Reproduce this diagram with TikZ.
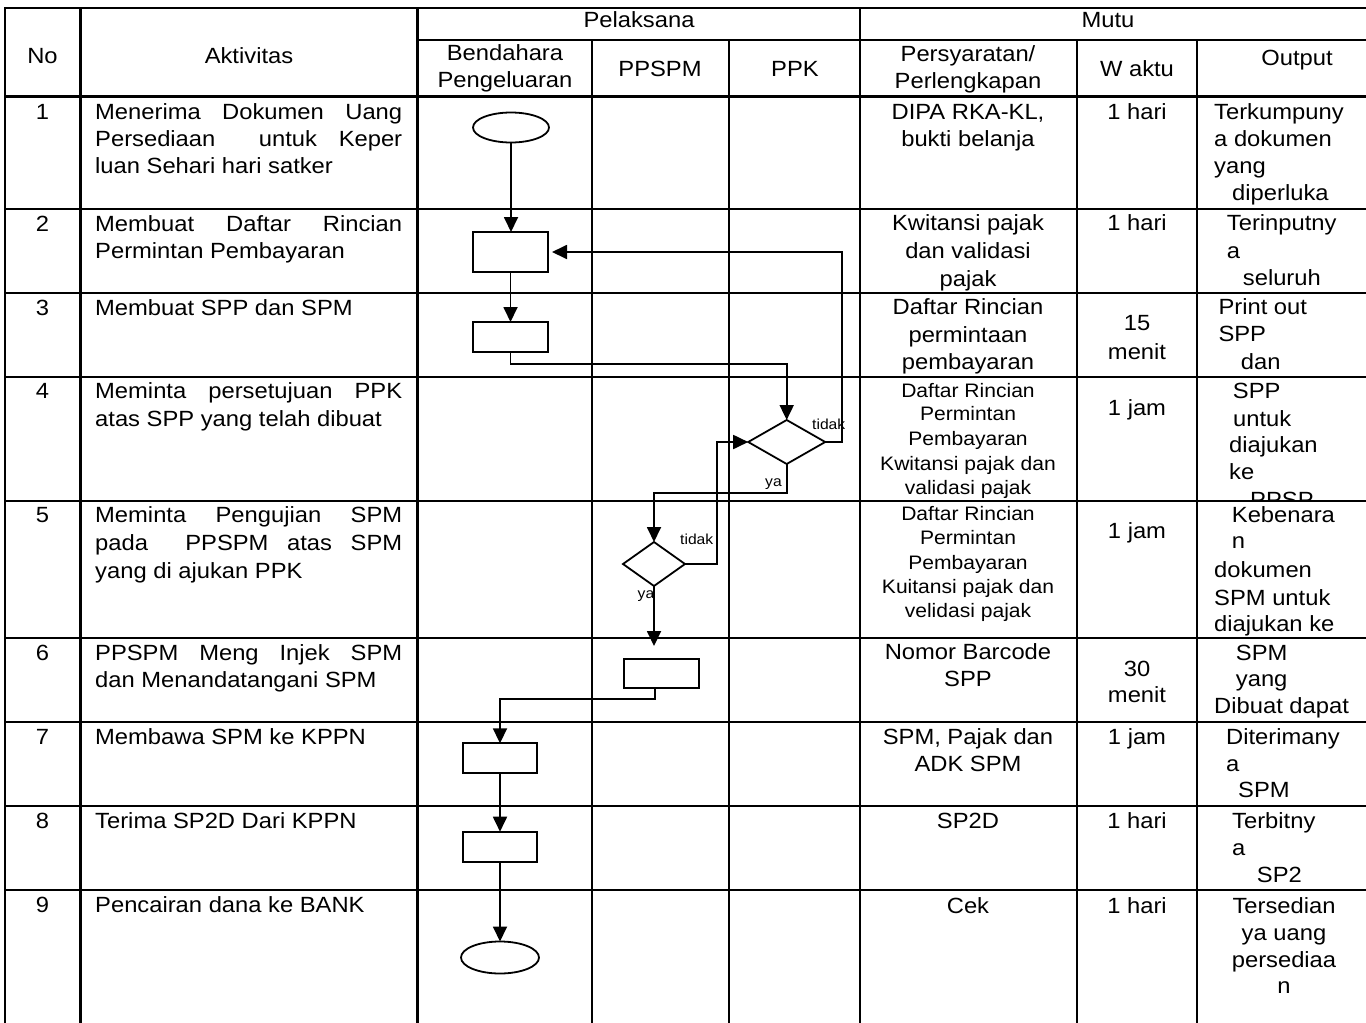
\documentclass[tikz,border=0pt]{standalone}
\usepackage{fontspec}
\setmainfont{Liberation Sans}[FakeStretch=1.08]
\usetikzlibrary{arrows.meta,shapes.geometric}
\begin{document}
\begin{tikzpicture}[x=1pt,y=-1pt,
  grid/.style={line width=2.5pt},
  flow/.style={line width=1.8pt},
  arr/.style={flow,-{Triangle[length=15pt,width=14pt]}},
  shp/.style={draw,line width=1.8pt,inner sep=0pt,outer sep=0pt,fill=white},
  txt/.style={inner sep=0pt,font=\fontsize{22}{27}\selectfont},
  sml/.style={inner sep=0pt,font=\fontsize{19.5}{24}\selectfont},
  lbl/.style={inner sep=0pt,font=\fontsize{14.5}{17}\selectfont}]
\useasboundingbox (0,0) rectangle (1366,1023);
\fill[white] (0,0) rectangle (1366,1023);
% grid
\draw[grid] (1366,8) -- (5,8) -- (5,1023);
\draw[grid] (80.5,8) -- (80.5,1023);
\draw[grid] (417.5,8) -- (417.5,1023);
\draw[grid] (860,8) -- (860,1023);
\foreach \x in {592,729,1077,1197} \draw[grid] (\x,40) -- (\x,1023);
\draw[grid] (417.5,40) -- (1366,40);
\foreach \y in {96.7,209,293,377,501,638,722,806,890} \draw[grid] (5,\y) -- (1366,\y);
% flow shapes
\node[shp,ellipse,minimum width=76pt,minimum height=30pt] (start) at (511,127.5) {};
\node[shp,rectangle,minimum width=75pt,minimum height=40pt] (r2) at (510.5,252) {};
\node[shp,rectangle,minimum width=75pt,minimum height=30pt] (r3) at (510.5,337) {};
\node[shp,diamond,minimum width=77pt,minimum height=44pt] (d4) at (786.7,442) {};
\node[shp,diamond,minimum width=62pt,minimum height=44pt] (d5) at (654,564) {};
\node[shp,rectangle,minimum width=75pt,minimum height=28.4pt] (r6) at (661.8,673.5) {};
\node[shp,rectangle,minimum width=74.6pt,minimum height=30pt] (r7) at (500,758.3) {};
\node[shp,rectangle,minimum width=74.6pt,minimum height=30pt] (r8) at (500,846.7) {};
\node[shp,ellipse,minimum width=78pt,minimum height=32pt] (stop) at (500,957.5) {};
% connectors
\coordinate (c3) at (510.5,364);
\coordinate (c4) at (841.7,442);
\coordinate (c5) at (654,492.7);
\coordinate (c6) at (716.7,564);
\coordinate (c7) at (654,646);
\coordinate (c8) at (655.3,699.3);
\draw[arr] (start.south) -- (start.south |- r2.north);
\draw[arr] (r2.south) -- (r3.north);
\draw[arr] (r3.south) -- (c3) -| (d4.north);
\draw[arr] (d4.east) -- (c4) |- ([xshift=4pt]r2.east);
\draw[arr] (d4.south) |- (c5) -- (d5.north);
\draw[arr] (d5.east) -- (c6) |- (d4.west);
\draw[arr] (d5.south) -- (c7);
\draw[arr] (r6.south -| c8) -- (c8) -| (r7.north);
\draw[arr] (r7.south) -- (r8.north);
\draw[arr] (r8.south) -- (stop.north);
\node[lbl,anchor=base west] (l1) at (812,429.3) {tidak};
\node[lbl,anchor=base west] (l2) at (765,486) {ya};
\node[lbl,anchor=base west] (l3) at (680,544.3) {tidak};
\node[lbl,anchor=base west] (l4) at (637.5,598) {ya};
% centered texts
\foreach \x/\y/\t [count=\i] in {
  42.5/63/No, 249/63/Aktivitas, 639/27/Pelaksana, 1108/27/Mutu,
  505/60/Bendahara, 505/87/Pengeluaran, 660/76/PPSPM, 795/76/PPK,
  968/61/{Persyaratan/}, 968/88/Perlengkapan, 1137/76/W aktu, 1297/65/Output,
  42.5/119/1, 42.5/231.7/2, 42.5/315/3, 42.5/398.3/4, 42.5/522.7/5,
  42.5/660/6, 42.5/744.3/7, 42.5/828.3/8, 42.5/912.3/9,
  968/119/DIPA RKA-KL{,}, 968/146/bukti belanja,
  968/230.7/Kwitansi pajak, 968/258.3/dan validasi, 968/286/pajak,
  968/314.3/Daftar Rincian, 968/342.3/permintaan, 968/369/pembayaran,
  968/659.3/Nomor Barcode, 968/686/SPP, 968/744/SPM{,} Pajak dan,
  968/771.7/ADK SPM, 968/828.3/SP2D, 968/913.3/Cek,
  1137/119/1 hari, 1137/230.7/1 hari, 1137/330.7/15, 1137/359/menit,
  1137/415/1 jam, 1137/538.3/1 jam, 1137/676.7/30, 1137/702.7/menit,
  1137/744/1 jam, 1137/828.3/1 hari, 1137/913.3/1 hari,
  1284/913.3/Tersedian, 1284/940/ya uang, 1284/967.3/persediaa, 1284/993.3/n}
  \node[txt,anchor=base] (c\i) at (\x,\y) {\t};
% small centered texts
\foreach \x/\y/\t [count=\i] in {
  968/397.3/Daftar Rincian, 968/420.7/Permintan, 968/445.7/Pembayaran,
  968/470/Kwitansi pajak dan, 968/494/validasi pajak,
  968/520/Daftar Rincian, 968/544.3/Permintan, 968/569.3/Pembayaran,
  968/593.3/Kuitansi pajak dan, 968/617.7/velidasi pajak}
  \node[sml,anchor=base] (s\i) at (\x,\y) {\t};
% left texts
\foreach \x/\y/\t [count=\i] in {
  95/173/luan Sehari hari satker, 95/258.3/Permintan Pembayaran,
  95/315/Membuat SPP dan SPM, 95/426/atas SPP yang telah dibuat,
  95/578.3/yang di ajukan PPK, 95/687.3/dan Menandatangani SPM,
  95/744.3/Membawa SPM ke KPPN, 95/828.3/Terima SP2D Dari KPPN,
  95/912.3/Pencairan dana ke BANK,
  1214/119/Terkumpuny, 1214/146/a dokumen, 1214/173/yang, 1232/200/diperluka,
  1226.7/230.7/Terinputny, 1226.7/258.3/a, 1242.7/285/seluruh,
  1218.3/314.3/Print out, 1218.3/341.7/SPP, 1240.7/369/dan,
  1232.7/398.3/SPP, 1233/426/untuk, 1229/452.7/diajukan, 1229/479.3/ke,
  1231.7/522.7/Kebenara, 1231.7/548.3/n, 1214/577.3/dokumen,
  1214/605/SPM untuk, 1214/631.7/diajukan ke,
  1235.7/660/SPM, 1235.7/686.7/yang, 1214/713.3/Dibuat dapat,
  1226/744/Diterimany, 1226/771.7/a, 1238/797.3/SPM,
  1232/828.3/Terbitny, 1232/855.7/a, 1256.7/882.7/SP2}
  \node[txt,anchor=base west] (w\i) at (\x,\y) {\t};
% justified texts
\foreach \y/\t [count=\i] in {
  119/Menerima Dokumen Uang, 146/Persediaan\ \ untuk Keper,
  231.7/Membuat Daftar Rincian, 398.3/Meminta persetujuan PPK,
  522.7/Meminta Pengujian SPM, 550.7/pada\ \ PPSPM atas SPM,
  660/PPSPM Meng Injek SPM}
  \node[txt,anchor=base west] (j\i) at (95,\y) {\makebox[307pt][s]{\t}};
% clipped text
\begin{scope}
\clip (1198,378) rectangle (1366,500);
\node[txt,anchor=base west] (pp) at (1250,507) {PPSP};
\end{scope}
\draw[grid] (1197,501) -- (1366,501);
\end{tikzpicture}
\end{document}
